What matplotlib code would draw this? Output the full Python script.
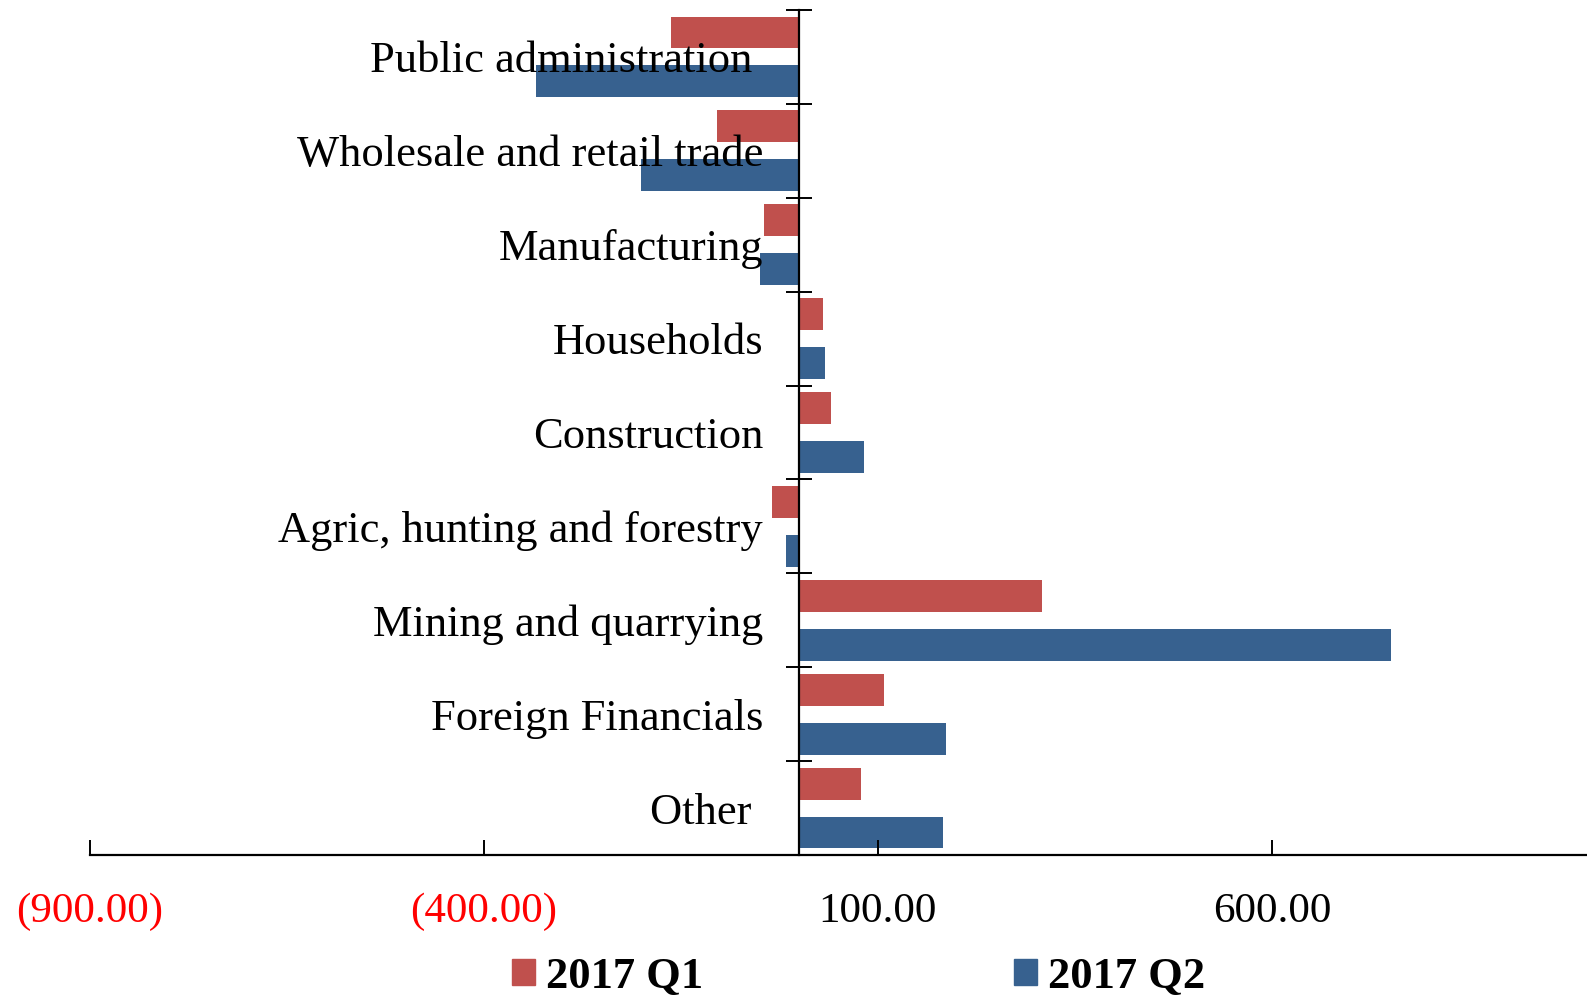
import matplotlib
matplotlib.use('Agg')
import matplotlib.pyplot as plt
from matplotlib.patches import Patch
import numpy as np

# 行业分类及两个季度的数值.
categories = ['Public administration ', 'Wholesale and retail trade', 'Manufacturing',
              'Households', 'Construction', 'Agric, hunting and forestry',
              'Mining and quarrying', 'Foreign Financials', 'Other ']
q1_values = [-162, -104, -44, 30, 41, -35, 308, 108, 79]
q2_values = [-334, -201, -50, 33, 82, -17, 751, 186, 183]
x_ticks = [-900, -400, 100, 600]
series_names = ['2017 Q1', '2017 Q2']

plt.rcParams['font.family'] = ['Liberation Serif', 'DejaVu Serif']

fig = plt.figure(figsize=(15.87, 9.97), dpi=100)
ax = fig.add_axes([90 / 1587, 1 - 855 / 997, 1 - 90 / 1587, (855 - 10) / 997])

y = np.arange(len(categories))
ax.barh(y - 0.26, q1_values, height=0.34, color='#C0504D')
ax.barh(y + 0.26, q2_values, height=0.34, color='#37618F')

ax.set_xlim(-900, 1000)
ax.set_ylim(len(categories) - 0.5, -0.5)

for side in ['top', 'right']:
    ax.spines[side].set_visible(False)
ax.spines['left'].set_position(('data', 0))
ax.spines['left'].set_linewidth(1.6)
ax.spines['bottom'].set_linewidth(1.6)

# y轴: 主刻度在分类边界, 次刻度放标签.
ax.set_yticks(np.arange(len(categories) + 1) - 0.5)
ax.set_yticklabels([])
ax.set_yticks(y, categories, minor=True)
ax.tick_params(axis='y', which='major', direction='inout', length=19, width=1.4)
ax.tick_params(axis='y', which='minor', length=0, pad=26, labelsize=32)

ax.set_xticks(x_ticks, [('(%.2f)' % abs(v)) if v < 0 else ('%.2f' % v) for v in x_ticks])
ax.tick_params(axis='x', direction='in', length=11, width=1.4, pad=27, labelsize=31)
for v, lab in zip(x_ticks, ax.get_xticklabels()):
    if v < 0:
        lab.set_color('red')

handles = [Patch(color='#C0504D'), Patch(color='#37618F')]
fig.legend(handles, series_names, loc='center', bbox_to_anchor=(0.541, 0.02), ncol=2,
           frameon=False, prop={'size': 32, 'weight': 'bold'},
           handlelength=0.52, handleheight=0.52, handletextpad=0.25, columnspacing=7.0,
           borderpad=0)

fig.savefig('out.png', dpi=100)
